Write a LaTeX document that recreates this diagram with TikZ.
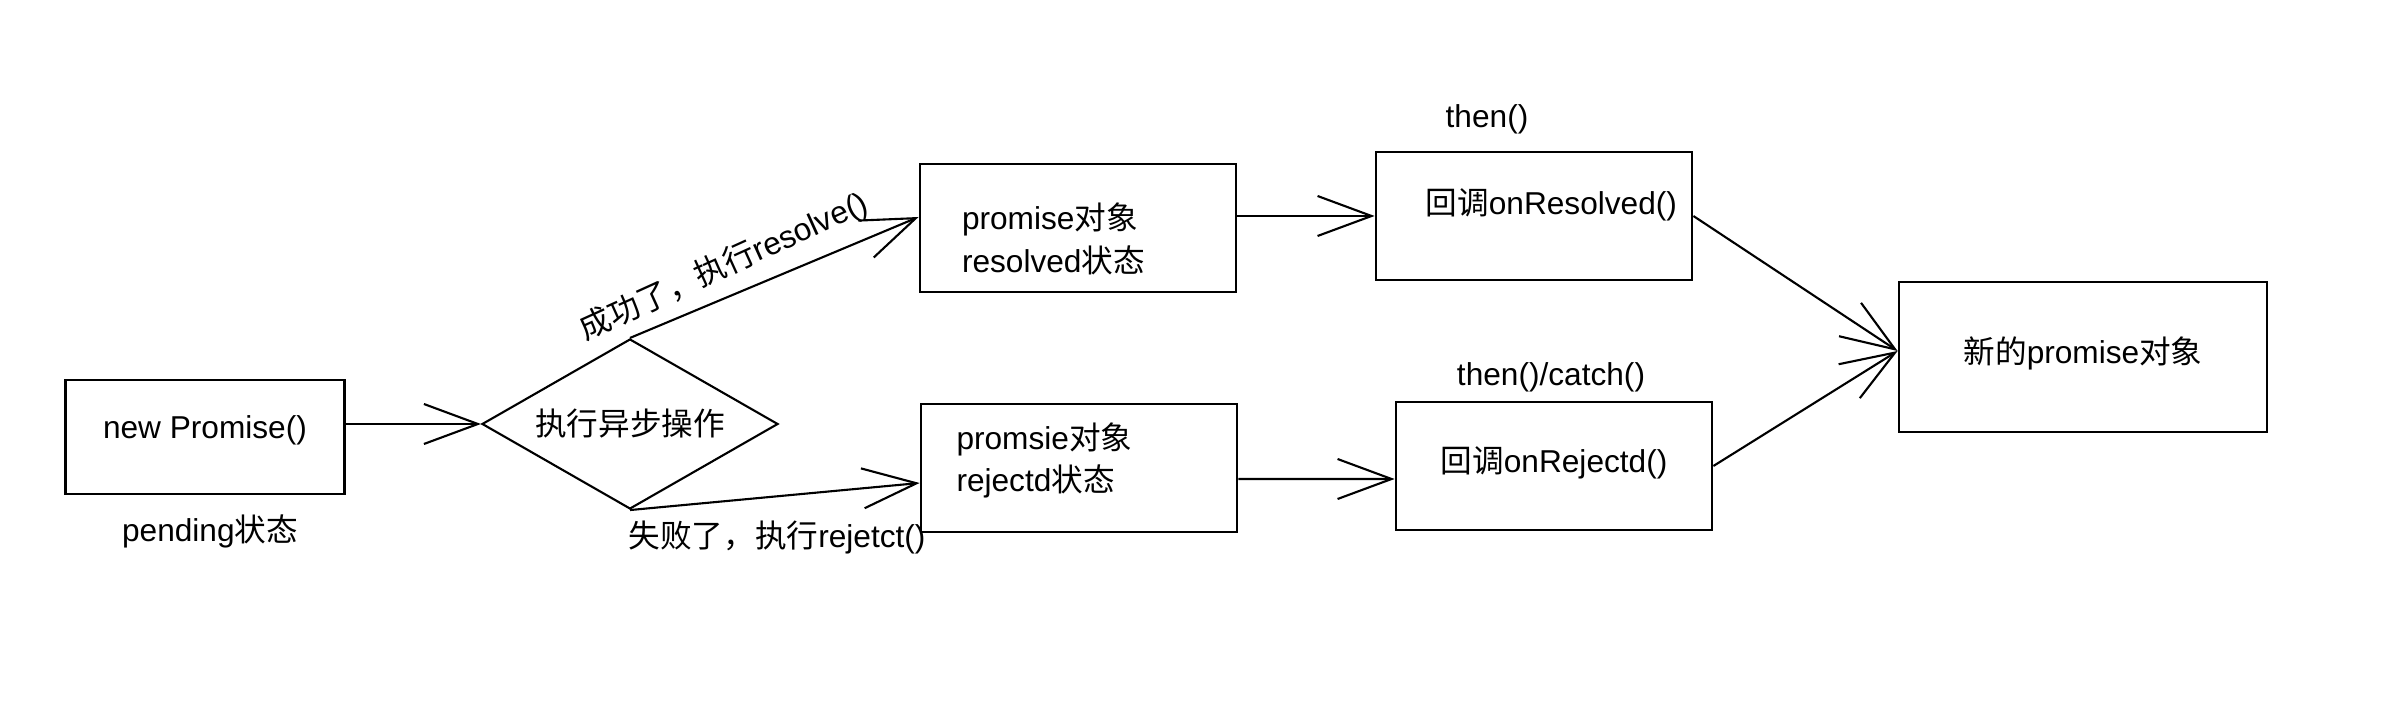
\documentclass[tikz,border=0pt]{standalone}
\usepackage{fontspec}
\setmainfont{Liberation Sans}
\newfontfamily\cjk{Noto Sans CJK SC}
\newcommand{\zh}[1]{{\cjk #1}}
\usetikzlibrary{positioning,arrows.meta,shapes.geometric}
\tikzset{
  every node/.style={font=\fontsize{9}{12}\selectfont},
  box/.style={
    draw=black, line width=0.8pt, inner sep=0pt,
    minimum width=3.16cm, minimum height=1.28cm, align=left
  },
  dec/.style={
    draw=black, line width=0.6pt, diamond, aspect=1.74, inner sep=0pt,
    minimum width=2.96cm, minimum height=1.7cm
  },
  arr/.style={-{Straight Barb[length=5.4mm,width=4mm]}, line width=0.6pt, draw=black},
  lbl/.style={inner sep=1pt}
}

\begin{document}
\begin{tikzpicture}
\useasboundingbox (0,0) rectangle (23.9,-7.08);

\node[box, minimum width=2.785cm, minimum height=1.14cm, text height=0.24cm, text depth=0.2cm]
  (np) at (2.05,-4.37) {new Promise()};
\node[lbl] (pend) at (2.10,-5.31) {pending\zh{状态}};
\node[dec] (op) at (6.30,-4.24) {\zh{执行异步操作}};

\node[box, text width=2.32cm, text height=0.3cm, text depth=0.26cm]
  (res) at (10.78,-2.28) {promise\zh{对象}\\resolved\zh{状态}};
\node[box, text width=2.45cm, text height=0.2cm, text depth=0.574cm]
  (rej) at (10.79,-4.68) {promsie\zh{对象}\\rejectd\zh{状态}};

\node[box, text width=2.86cm, align=right, text height=0.25cm, text depth=0.276cm]
  (onres) at (15.34,-2.16) {\zh{回调}onResolved()};
\node[box, text height=0.28cm, text depth=0.14cm] (onrej) at (15.54,-4.66) {\zh{回调}onRejectd()};
\node[lbl] (then) at (14.87,-1.19) {then()};
\node[lbl] (thencatch) at (15.51,-3.77) {then()/catch()};

\node[box, minimum width=3.68cm, minimum height=1.5cm, text height=0.28cm, text depth=0.14cm]
  (newp) at (20.83,-3.57) {\zh{新的}promise\zh{对象}};

\draw[arr] (np.east |- op.west) -- (op.west);
\draw[arr] (op.north) -- ([yshift=1.1mm]res.west);
\draw[arr] (op.south) -- ([yshift=-1.5mm]rej.west);
\node[lbl, rotate=24.4] (ok) at (7.24,-2.665) {\zh{成功了，执行}resolve()};
\node[lbl] (fail) at (7.77,-5.37) {\zh{失败了，执行}rejetct()};
\draw[arr] (res.east |- onres.west) -- (onres.west);
\draw[arr] ([yshift=-1.1mm]rej.east) -- ([yshift=-1.3mm]onrej.west);
\draw[arr] (onres.east) -- ([yshift=0.6mm]newp.west);
\draw[arr] (onrej.east) -- ([yshift=0.6mm]newp.west);
\end{tikzpicture}
\end{document}
